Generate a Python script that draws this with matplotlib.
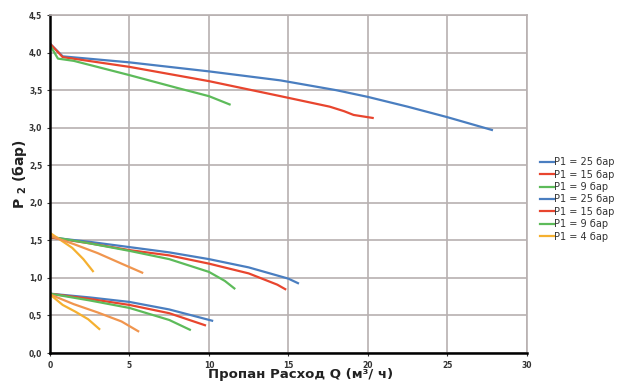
import matplotlib.pyplot as plt
from matplotlib.ticker import FuncFormatter

# curves: (Q, P2)
q_top_25 = [0, 0.8, 5, 10, 14.5, 18, 20, 22.5, 25, 27.8]
p_top_25 = [4.12, 3.95, 3.87, 3.75, 3.63, 3.5, 3.41, 3.28, 3.14, 2.97]
q_top_15 = [0, 0.8, 5, 10, 14.5, 17.6, 18.5, 19.1, 20.3]
p_top_15 = [4.12, 3.94, 3.81, 3.62, 3.42, 3.28, 3.22, 3.17, 3.13]
q_top_9 = [0, 0.5, 1.5, 5, 8, 10, 11.3]
p_top_9 = [4.1, 3.92, 3.89, 3.7, 3.53, 3.42, 3.31]

q_mid_25 = [0, 2.5, 5, 7.5, 10, 12.5, 15, 15.6]
p_mid_25 = [1.54, 1.48, 1.41, 1.34, 1.25, 1.14, 0.99, 0.93]
q_mid_15 = [0, 2.5, 5, 7.5, 10, 12.5, 14.3, 14.8]
p_mid_15 = [1.54, 1.46, 1.37, 1.3, 1.19, 1.06, 0.91, 0.85]
q_mid_9 = [0, 2.5, 5, 7.5, 10, 11, 11.6]
p_mid_9 = [1.55, 1.46, 1.36, 1.25, 1.08, 0.96, 0.86]
q_mid_4b = [0, 1.5, 3, 4.5, 5.8]
p_mid_4b = [1.56, 1.45, 1.33, 1.19, 1.07]
q_mid_4 = [0, 0.7, 1.4, 2.1, 2.7]
p_mid_4 = [1.6, 1.5, 1.4, 1.25, 1.09]

q_low_25 = [0, 2.5, 5, 7.5, 10.2]
p_low_25 = [0.79, 0.74, 0.68, 0.58, 0.43]
q_low_15 = [0, 2.5, 5, 7.5, 9.75]
p_low_15 = [0.79, 0.72, 0.64, 0.53, 0.37]
q_low_9 = [0, 2.5, 5, 7.5, 8.8]
p_low_9 = [0.79, 0.7, 0.6, 0.44, 0.31]
q_low_4b = [0, 1.5, 3, 4.5, 5.55]
p_low_4b = [0.78, 0.65, 0.54, 0.42, 0.29]
q_low_4 = [0, 0.8, 1.6, 2.4, 3.1]
p_low_4 = [0.78, 0.64, 0.55, 0.45, 0.32]

blue = '#4a7ec0'
red = '#e8452e'
green = '#5dbb5a'
orange = '#f0954e'
yellow = '#f5b030'

fig = plt.figure(figsize=(6.35, 3.88), dpi=100)
ax = fig.add_axes([0.0787, 0.0902, 0.751, 0.871])

lw = 1.6
ax.plot(q_top_25, p_top_25, color=blue, lw=lw, label='P1 = 25 бар')
ax.plot(q_top_15, p_top_15, color=red, lw=lw, label='P1 = 15 бар')
ax.plot(q_top_9, p_top_9, color=green, lw=lw, label='P1 = 9 бар')
ax.plot(q_mid_25, p_mid_25, color=blue, lw=lw, label='P1 = 25 бар')
ax.plot(q_mid_15, p_mid_15, color=red, lw=lw, label='P1 = 15 бар')
ax.plot(q_mid_9, p_mid_9, color=green, lw=lw, label='P1 = 9 бар')
ax.plot(q_mid_4, p_mid_4, color=yellow, lw=lw, label='P1 = 4 бар')
ax.plot(q_mid_4b, p_mid_4b, color=orange, lw=lw)
ax.plot(q_low_25, p_low_25, color=blue, lw=lw)
ax.plot(q_low_15, p_low_15, color=red, lw=lw)
ax.plot(q_low_9, p_low_9, color=green, lw=lw)
ax.plot(q_low_4b, p_low_4b, color=orange, lw=lw)
ax.plot(q_low_4, p_low_4, color=yellow, lw=lw)

ax.set_xlim(0, 30)
ax.set_ylim(0, 4.5)
ax.set_xticks(range(0, 31, 5))
ax.set_yticks([i * 0.5 for i in range(10)])
ax.yaxis.set_major_formatter(FuncFormatter(lambda v, p: f'{v:.1f}'.replace('.', ',')))
ax.tick_params(labelsize=5.5, length=2, colors='#333333')
for t in ax.get_xticklabels() + ax.get_yticklabels():
    t.set_fontweight('bold')
ax.grid(True, color='#b8b0b0', lw=1.2)
ax.set_axisbelow(True)
for s in ['top', 'right']:
    ax.spines[s].set_color('#b8b0b0')
    ax.spines[s].set_linewidth(1.2)
for s in ['left', 'bottom']:
    ax.spines[s].set_color('black')
    ax.spines[s].set_linewidth(1.8)

ax.set_xlabel('Пропан Расход Q (м³/ ч)', fontsize=9.5, fontweight='bold', color='#222222', labelpad=1)
ax.xaxis.set_label_coords(0.525, -0.045, transform=ax.transAxes)
ax.xaxis.label.set_va('top')
ax.set_ylabel(r'P $_{\mathbf{2}}$ (бар)', fontsize=10, fontweight='bold', color='#222222')
ax.yaxis.set_label_coords(-0.045, 0.53, transform=ax.transAxes)

leg = fig.legend(loc='upper left', bbox_to_anchor=(0.845, 0.605), fontsize=7, frameon=False,
                 handlelength=1.4, handletextpad=0.0, labelspacing=0.25, borderaxespad=0)
for t in leg.get_texts():
    t.set_color('#333333')

fig.savefig('out.png', dpi=100)
